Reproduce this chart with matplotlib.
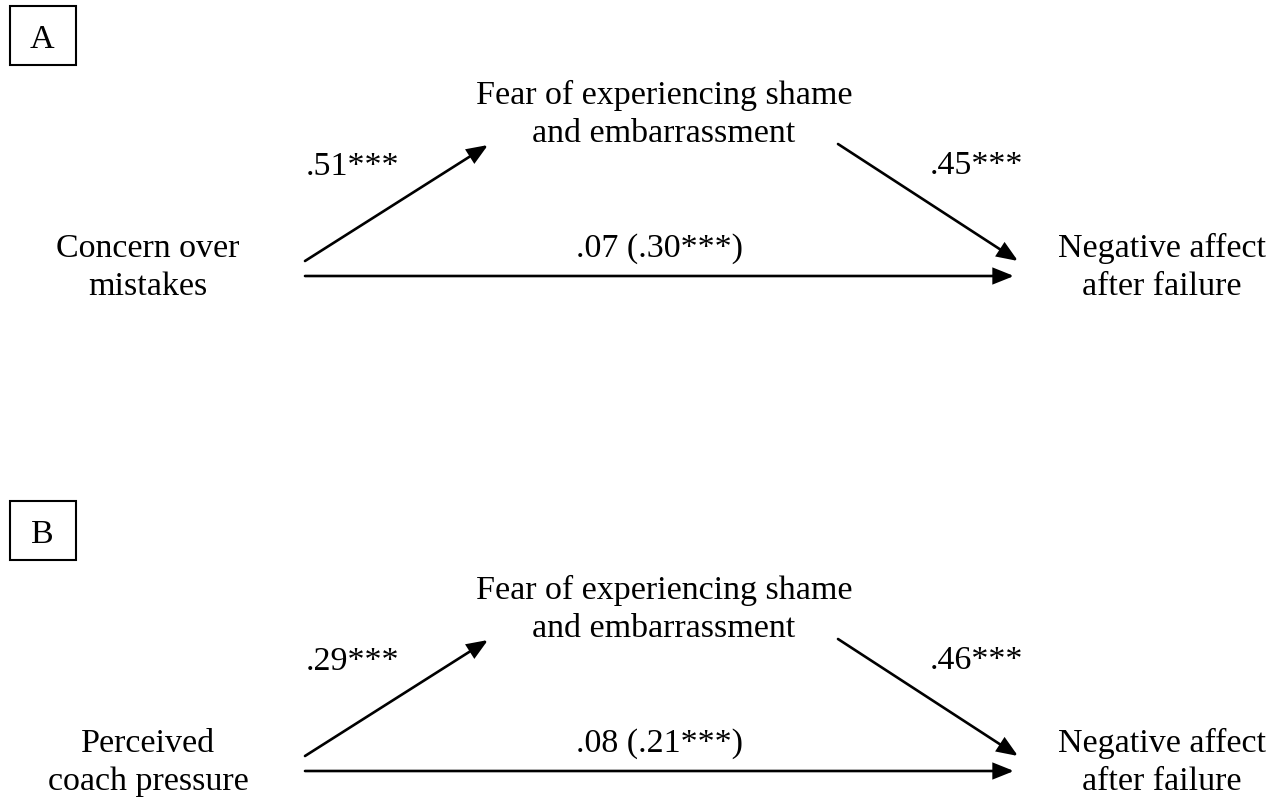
import matplotlib
matplotlib.use("Agg")
import matplotlib.pyplot as plt
from matplotlib.patches import FancyArrowPatch, Rectangle

# ---- data ----
panel_labels = ["A", "B"]
predictors = ["Concern over\nmistakes", "Perceived\ncoach pressure"]
mediator = "Fear of experiencing shame\nand embarrassment"
outcome = "Negative affect\nafter failure"
a_paths = [".51***", ".29***"]
b_paths = [".45***", ".46***"]
direct_paths = [".07 (.30***)", ".08 (.21***)"]

W, H = 1278, 803
fig = plt.figure(figsize=(W / 100, H / 100), dpi=100)
ax = fig.add_axes([0, 0, 1, 1])
ax.set_xlim(0, W)
ax.set_ylim(H, 0)
ax.axis("off")

FONT = "Liberation Serif"
FS = 24.5
GAP = 38          # px between baselines of stacked lines
offsets = [0, 495]


def label(x, y_base, txt):
    for k, line in enumerate(txt.split("\n")):
        ax.text(x, y_base + k * GAP, line, ha="center", va="baseline",
                fontsize=FS, family=FONT)


def arrow(x0, y0, x1, y1):
    ax.add_patch(FancyArrowPatch((x0, y0), (x1, y1),
                                 arrowstyle="-|>,head_length=0.55,head_width=0.22",
                                 mutation_scale=22, lw=1.9, color="black",
                                 shrinkA=0, shrinkB=0, joinstyle="miter"))


for i, dy in enumerate(offsets):
    # panel box
    ax.add_patch(Rectangle((10, 7 + dy), 66, 59, fill=False, lw=1.5, ec="black"))
    ax.text(42, 48 + dy, panel_labels[i], ha="center", va="baseline",
            fontsize=FS, family=FONT)
    # nodes
    label(148, 257 + dy, predictors[i])
    label(664, 104 + dy, mediator)
    label(1162, 257 + dy, outcome)
    # arrows
    arrow(305, 262 + dy, 488, 146 + dy)
    arrow(838, 145 + dy, 1018, 262 + dy)
    arrow(305, 277 + dy, 1014, 277 + dy)
    # coefficients
    ax.text(352, 175 + dy, a_paths[i], ha="center", va="baseline",
            fontsize=FS, family=FONT)
    ax.text(976, 174 + dy, b_paths[i], ha="center", va="baseline",
            fontsize=FS, family=FONT)
    ax.text(660, 257 + dy, direct_paths[i], ha="center", va="baseline",
            fontsize=FS, family=FONT)

fig.savefig("out.png", dpi=100, facecolor="white")
